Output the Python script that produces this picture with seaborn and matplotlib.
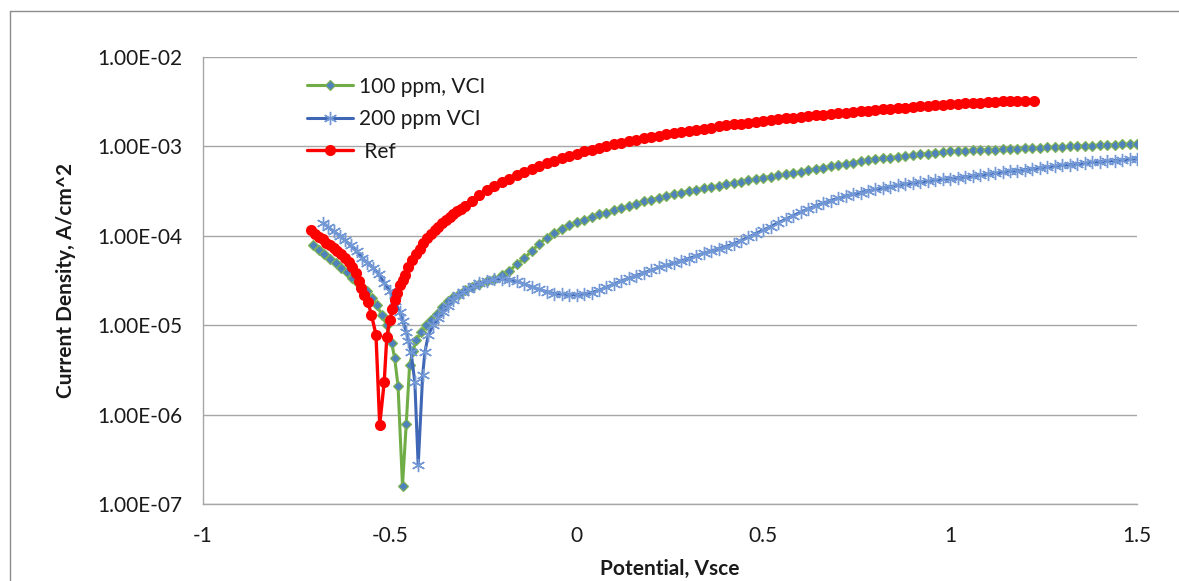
import matplotlib
matplotlib.use("Agg")
import matplotlib.pyplot as plt
from matplotlib.lines import Line2D
from matplotlib.ticker import FixedLocator, FuncFormatter, NullLocator
import seaborn as sns

# Potentiodynamic polarisation scans: potential (V vs SCE) and current density (A/cm^2)

vci100_potential = [
    -0.706, -0.690, -0.675, -0.660, -0.645, -0.630, -0.615, -0.600, -0.588, -0.576,
    -0.562, -0.548, -0.535, -0.522, -0.508, -0.495, -0.487, -0.478, -0.466, -0.456,
    -0.447, -0.438, -0.429, -0.416, -0.402, -0.390, -0.375, -0.360, -0.345, -0.330,
    -0.315, -0.300, -0.280, -0.260, -0.240, -0.220, -0.200, -0.180, -0.160, -0.140,
    -0.120, -0.100, -0.080, -0.060, -0.040, -0.020, 0.000, 0.020, 0.040, 0.060,
    0.080, 0.100, 0.120, 0.140, 0.160, 0.180, 0.200, 0.220, 0.240, 0.260,
    0.280, 0.300, 0.320, 0.340, 0.360, 0.380, 0.400, 0.420, 0.440, 0.460,
    0.480, 0.500, 0.520, 0.540, 0.560, 0.580, 0.600, 0.620, 0.640, 0.660,
    0.680, 0.700, 0.720, 0.740, 0.760, 0.780, 0.800, 0.820, 0.840, 0.860,
    0.880, 0.900, 0.920, 0.940, 0.960, 0.980, 1.000, 1.020, 1.040, 1.060,
    1.080, 1.100, 1.120, 1.140, 1.160, 1.180, 1.200, 1.220, 1.240, 1.260,
    1.280, 1.300, 1.320, 1.340, 1.360, 1.380, 1.400, 1.420, 1.440, 1.460,
    1.480, 1.500,
]
vci100_current = [
    7.9e-5, 7.0e-5, 6.2e-5, 5.5e-5, 4.9e-5, 4.4e-5, 3.9e-5, 3.4e-5, 3.05e-5, 2.75e-5,
    2.4e-5, 2.0e-5, 1.7e-5, 1.3e-5, 1.0e-5, 6.3e-6, 4.3e-6, 2.1e-6, 1.6e-7, 7.8e-7,
    3.6e-6, 5.2e-6, 6.8e-6, 8.5e-6, 1.0e-5, 1.15e-5, 1.35e-5, 1.58e-5, 1.85e-5, 2.05e-5,
    2.25e-5, 2.45e-5, 2.69e-5, 2.88e-5, 3.09e-5, 3.31e-5, 3.63e-5, 4.07e-5, 4.79e-5, 5.62e-5,
    6.76e-5, 8.13e-5, 9.55e-5, 1.07e-4, 1.20e-4, 1.32e-4, 1.41e-4, 1.51e-4, 1.62e-4, 1.74e-4,
    1.82e-4, 1.93e-4, 2.04e-4, 2.16e-4, 2.29e-4, 2.43e-4, 2.54e-4, 2.66e-4, 2.79e-4, 2.92e-4,
    3.05e-4, 3.16e-4, 3.27e-4, 3.39e-4, 3.51e-4, 3.63e-4, 3.76e-4, 3.89e-4, 4.03e-4, 4.17e-4,
    4.32e-4, 4.47e-4, 4.60e-4, 4.75e-4, 4.90e-4, 5.05e-4, 5.20e-4, 5.40e-4, 5.60e-4, 5.80e-4,
    6.00e-4, 6.20e-4, 6.40e-4, 6.60e-4, 6.80e-4, 6.97e-4, 7.14e-4, 7.33e-4, 7.50e-4, 7.67e-4,
    7.83e-4, 8.00e-4, 8.17e-4, 8.32e-4, 8.47e-4, 8.63e-4, 8.77e-4, 8.85e-4, 8.91e-4, 9.00e-4,
    9.06e-4, 9.14e-4, 9.20e-4, 9.29e-4, 9.35e-4, 9.44e-4, 9.51e-4, 9.59e-4, 9.66e-4, 9.75e-4,
    9.82e-4, 9.91e-4, 9.98e-4, 1.007e-3, 1.014e-3, 1.023e-3, 1.030e-3, 1.037e-3, 1.047e-3, 1.054e-3,
    1.062e-3, 1.070e-3,
]

vci200_potential = [
    -0.678, -0.665, -0.650, -0.634, -0.620, -0.605, -0.589, -0.575, -0.560, -0.544,
    -0.530, -0.515, -0.500, -0.487, -0.473, -0.465, -0.456, -0.450, -0.443, -0.433,
    -0.424, -0.412, -0.406, -0.397, -0.384, -0.370, -0.357, -0.345, -0.332, -0.318,
    -0.305, -0.290, -0.275, -0.260, -0.240, -0.220, -0.200, -0.180, -0.160, -0.140,
    -0.120, -0.100, -0.080, -0.060, -0.040, -0.020, 0.000, 0.020, 0.040, 0.060,
    0.080, 0.100, 0.120, 0.140, 0.160, 0.180, 0.200, 0.220, 0.240, 0.260,
    0.280, 0.300, 0.320, 0.340, 0.360, 0.380, 0.400, 0.420, 0.440, 0.460,
    0.480, 0.500, 0.520, 0.540, 0.560, 0.580, 0.600, 0.620, 0.640, 0.660,
    0.680, 0.700, 0.720, 0.740, 0.760, 0.780, 0.800, 0.820, 0.840, 0.860,
    0.880, 0.900, 0.920, 0.940, 0.960, 0.980, 1.000, 1.020, 1.040, 1.060,
    1.080, 1.100, 1.120, 1.140, 1.160, 1.180, 1.200, 1.220, 1.240, 1.260,
    1.280, 1.300, 1.320, 1.340, 1.360, 1.380, 1.400, 1.420, 1.440, 1.460,
    1.480, 1.500,
]
vci200_current = [
    1.39e-4, 1.25e-4, 1.12e-4, 1.00e-4, 8.9e-5, 7.8e-5, 6.7e-5, 5.7e-5, 5.0e-5, 4.4e-5,
    3.7e-5, 3.0e-5, 2.4e-5, 1.85e-5, 1.4e-5, 1.1e-5, 8.5e-6, 6.7e-6, 5.0e-6, 2.3e-6,
    2.7e-7, 2.8e-6, 5.0e-6, 7.8e-6, 1.0e-5, 1.2e-5, 1.42e-5, 1.65e-5, 1.9e-5, 2.15e-5,
    2.35e-5, 2.55e-5, 2.75e-5, 2.95e-5, 3.16e-5, 3.27e-5, 3.31e-5, 3.24e-5, 3.09e-5, 2.88e-5,
    2.69e-5, 2.51e-5, 2.37e-5, 2.26e-5, 2.21e-5, 2.19e-5, 2.19e-5, 2.24e-5, 2.32e-5, 2.45e-5,
    2.66e-5, 2.88e-5, 3.13e-5, 3.35e-5, 3.59e-5, 3.85e-5, 4.12e-5, 4.42e-5, 4.68e-5, 4.95e-5,
    5.25e-5, 5.56e-5, 5.96e-5, 6.38e-5, 6.76e-5, 7.16e-5, 7.59e-5, 8.13e-5, 8.81e-5, 9.66e-5,
    1.06e-4, 1.16e-4, 1.27e-4, 1.40e-4, 1.53e-4, 1.68e-4, 1.84e-4, 2.00e-4, 2.16e-4, 2.32e-4,
    2.48e-4, 2.63e-4, 2.79e-4, 2.92e-4, 3.05e-4, 3.20e-4, 3.31e-4, 3.43e-4, 3.55e-4, 3.67e-4,
    3.80e-4, 3.89e-4, 3.98e-4, 4.07e-4, 4.17e-4, 4.27e-4, 4.37e-4, 4.47e-4, 4.57e-4, 4.68e-4,
    4.79e-4, 4.90e-4, 5.01e-4, 5.13e-4, 5.25e-4, 5.37e-4, 5.50e-4, 5.62e-4, 5.75e-4, 5.89e-4,
    6.03e-4, 6.14e-4, 6.25e-4, 6.37e-4, 6.49e-4, 6.61e-4, 6.73e-4, 6.84e-4, 6.95e-4, 7.06e-4,
    7.18e-4, 7.29e-4,
]

ref_potential = [
    -0.710, -0.700, -0.690, -0.680, -0.670, -0.660, -0.650, -0.640, -0.630, -0.620,
    -0.610, -0.600, -0.590, -0.582, -0.576, -0.568, -0.559, -0.549, -0.537, -0.527,
    -0.515, -0.508, -0.500, -0.493, -0.487, -0.480, -0.473, -0.466, -0.460, -0.450,
    -0.440, -0.430, -0.420, -0.410, -0.400, -0.390, -0.380, -0.370, -0.360, -0.350,
    -0.340, -0.330, -0.320, -0.310, -0.300, -0.280, -0.260, -0.240, -0.220, -0.200,
    -0.180, -0.160, -0.140, -0.120, -0.100, -0.080, -0.060, -0.040, -0.020, 0.000,
    0.020, 0.040, 0.060, 0.080, 0.100, 0.120, 0.140, 0.160, 0.180, 0.200,
    0.220, 0.240, 0.260, 0.280, 0.300, 0.320, 0.340, 0.360, 0.380, 0.400,
    0.420, 0.440, 0.460, 0.480, 0.500, 0.520, 0.540, 0.560, 0.580, 0.600,
    0.620, 0.640, 0.660, 0.680, 0.700, 0.720, 0.740, 0.760, 0.780, 0.800,
    0.820, 0.840, 0.860, 0.880, 0.900, 0.920, 0.940, 0.960, 0.980, 1.000,
    1.020, 1.040, 1.060, 1.080, 1.100, 1.120, 1.140, 1.160, 1.180, 1.200,
    1.225,
]
ref_current = [
    1.15e-4, 1.05e-4, 9.7e-5, 9.1e-5, 8.4e-5, 7.8e-5, 7.3e-5, 6.8e-5, 6.3e-5, 5.7e-5,
    5.1e-5, 4.5e-5, 3.8e-5, 3.1e-5, 2.6e-5, 2.2e-5, 1.84e-5, 1.3e-5, 7.8e-6, 7.7e-7,
    2.3e-6, 7.4e-6, 1.15e-5, 1.5e-5, 1.9e-5, 2.3e-5, 2.8e-5, 3.2e-5, 3.6e-5, 4.5e-5,
    5.4e-5, 6.3e-5, 7.2e-5, 8.3e-5, 9.4e-5, 1.04e-4, 1.15e-4, 1.27e-4, 1.39e-4, 1.51e-4,
    1.62e-4, 1.74e-4, 1.87e-4, 2.00e-4, 2.14e-4, 2.48e-4, 2.85e-4, 3.22e-4, 3.60e-4, 3.96e-4,
    4.35e-4, 4.77e-4, 5.20e-4, 5.60e-4, 6.00e-4, 6.45e-4, 6.90e-4, 7.40e-4, 7.90e-4, 8.30e-4,
    8.80e-4, 9.20e-4, 9.70e-4, 1.01e-3, 1.06e-3, 1.10e-3, 1.14e-3, 1.19e-3, 1.23e-3, 1.27e-3,
    1.32e-3, 1.36e-3, 1.41e-3, 1.45e-3, 1.50e-3, 1.53e-3, 1.58e-3, 1.62e-3, 1.68e-3, 1.72e-3,
    1.76e-3, 1.80e-3, 1.84e-3, 1.88e-3, 1.93e-3, 1.97e-3, 2.02e-3, 2.07e-3, 2.10e-3, 2.14e-3,
    2.18e-3, 2.22e-3, 2.26e-3, 2.30e-3, 2.34e-3, 2.39e-3, 2.43e-3, 2.47e-3, 2.51e-3, 2.55e-3,
    2.59e-3, 2.64e-3, 2.68e-3, 2.72e-3, 2.75e-3, 2.80e-3, 2.84e-3, 2.88e-3, 2.92e-3, 2.95e-3,
    2.99e-3, 3.02e-3, 3.05e-3, 3.09e-3, 3.13e-3, 3.16e-3, 3.18e-3, 3.20e-3, 3.22e-3, 3.23e-3,
    3.24e-3,
]

series_labels = ["100 ppm, VCI", "200 ppm VCI", " Ref"]
x_ticks = [-1, -0.5, 0, 0.5, 1, 1.5]
y_ticks = [1e-7, 1e-6, 1e-5, 1e-4, 1e-3, 1e-2]
x_title = "Potential, Vsce"
y_title = "Current Density, A/cm^2"

sns.set_theme(style="white")
plt.rcParams["font.family"] = ["Lato", "DejaVu Sans"]

fig = plt.figure(figsize=(11.79, 5.81), dpi=100)
ax = fig.add_axes([203 / 1179, 1 - 504 / 581, 934 / 1179, 447 / 581])

line_kw = dict(ax=ax, sort=False, estimator=None)

sns.lineplot(x=vci100_potential, y=vci100_current, label=series_labels[0],
             color="#70AD47", linewidth=2.2, marker="D", markersize=5.0,
             markerfacecolor="#4F81BD", markeredgecolor="#7DB356",
             markeredgewidth=0.9, zorder=3, **line_kw)
sns.lineplot(x=vci200_potential, y=vci200_current, label=series_labels[1],
             color="#3F67B5", linewidth=2.2, marker=(6, 2, 0), markersize=9.5,
             markerfacecolor="none", markeredgecolor="#7398D6",
             markeredgewidth=1.0, zorder=3.5, **line_kw)
sns.lineplot(x=ref_potential, y=ref_current, label=series_labels[2],
             color="#FF0000", linewidth=2.4, marker="o", markersize=8,
             markerfacecolor="#FF0000", markeredgecolor="#FF0000",
             markeredgewidth=0, zorder=4, **line_kw)

ax.set_yscale("log")
ax.set_xlim(-1, 1.5)
ax.set_ylim(1e-7, 1e-2)
ax.xaxis.set_major_locator(FixedLocator(x_ticks))
ax.yaxis.set_major_locator(FixedLocator(y_ticks))
ax.yaxis.set_minor_locator(NullLocator())
ax.xaxis.set_major_formatter(FuncFormatter(lambda v, p: f"{v:g}"))
ax.yaxis.set_major_formatter(FuncFormatter(lambda v, p: f"{v:.2E}"))

grid_color = "#A6A6A6"
ax.grid(False)
ax.yaxis.grid(True, color=grid_color, linewidth=1.0)
ax.set_axisbelow(True)
for side in ("top", "right"):
    ax.spines[side].set_visible(False)
for side in ("left", "bottom"):
    ax.spines[side].set_color(grid_color)
    ax.spines[side].set_linewidth(1.0)

text_color = "#1A1A1A"
ax.tick_params(axis="both", length=0, labelsize=15, labelcolor=text_color)
ax.tick_params(axis="y", pad=15)
ax.tick_params(axis="x", pad=16)

ax.set_xlabel(x_title, fontsize=15, fontweight="bold", color=text_color, labelpad=9)
ax.set_ylabel(y_title, fontsize=15, fontweight="bold", color=text_color, labelpad=15)

ax.legend(loc="upper left", bbox_to_anchor=(0.111, 0.956), frameon=False,
          fontsize=15, handlelength=2.2, handletextpad=0.3, labelspacing=0.6,
          borderpad=0, borderaxespad=0, labelcolor=text_color)

# chart area border: only its top and left edges fall inside the canvas
border_x = 10 / 1179
border_y = 1 - 11 / 581
fig.add_artist(Line2D([border_x, 1.0], [border_y, border_y], transform=fig.transFigure,
                      color="#8C8C8C", linewidth=1.0))
fig.add_artist(Line2D([border_x, border_x], [0.0, border_y], transform=fig.transFigure,
                      color="#8C8C8C", linewidth=1.0))

fig.savefig("out.png", dpi=100)
